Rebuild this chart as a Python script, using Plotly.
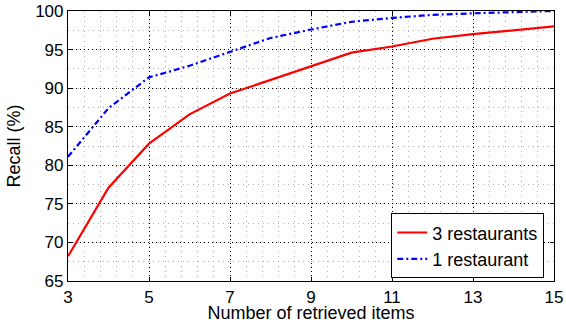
import plotly.graph_objects as go

x_items = [3, 4, 5, 6, 7, 8, 9, 10, 11, 12, 13, 14, 15]
recall_3 = [68.2, 77.1, 82.8, 86.6, 89.3, 91.1, 92.8, 94.6, 95.4, 96.4, 97.0, 97.5, 98.0]
recall_1 = [81.1, 87.4, 91.4, 92.9, 94.7, 96.5, 97.6, 98.6, 99.1, 99.5, 99.7, 99.85, 100.0]
x_ticks = [3, 5, 7, 9, 11, 13, 15]
y_ticks = [65, 70, 75, 80, 85, 90, 95, 100]

FONT = "Liberation Sans, Arial, sans-serif"

fig = go.Figure()
fig.add_trace(go.Scatter(x=x_items, y=recall_3, mode="lines", name="3 restaurants",
                         line=dict(color="#ff0000", width=2.2)))
fig.add_trace(go.Scatter(x=x_items, y=recall_1, mode="lines", name="1 restaurant",
                         line=dict(color="#0000ff", width=2.2, dash="6px,3px,2px,3px")))

axis_common = dict(
    showline=True, linecolor="black", linewidth=1.2, mirror="ticks",
    ticks="inside", ticklen=4, tickcolor="black",
    showgrid=True, gridcolor="black", gridwidth=1, griddash="1px,3px",
    zeroline=False, ticklabeloverflow="allow",
    tickfont=dict(family=FONT, size=17, color="black"),
)

fig.update_xaxes(
    range=[3, 15], tickmode="array", tickvals=x_ticks,
    ticktext=[str(v) for v in x_ticks], automargin=False,
    title=dict(text="Number of retrieved items", font=dict(family=FONT, size=18, color="black")),
    minor=dict(tick0=3, dtick=0.4, showgrid=True, gridcolor="#b0b0b0", griddash="1px,4px", gridwidth=1, ticks=""),
    **axis_common,
)
fig.update_yaxes(
    range=[65, 100], tickmode="array", tickvals=y_ticks,
    ticktext=[str(v) for v in y_ticks], automargin="left",
    title=dict(text="Recall (%)", font=dict(family=FONT, size=18, color="black"), standoff=9),
    minor=dict(tick0=65, dtick=2.5, showgrid=True, gridcolor="#b0b0b0", griddash="1px,4px", gridwidth=1, ticks=""),
    **axis_common,
)

fig.update_layout(
    width=566, height=323,
    margin=dict(l=68, r=12, t=11, b=42),
    plot_bgcolor="white", paper_bgcolor="white",
    font=dict(family=FONT, color="black"),
    legend=dict(x=0.98, y=0.01, xanchor="right", yanchor="bottom",
                bgcolor="white", bordercolor="black", borderwidth=1,
                font=dict(family=FONT, size=18, color="black"),
                tracegroupgap=0),
    showlegend=True,
)

fig.write_html("out.html", config={"displayModeBar": False},
               post_script="document.body.style.margin='0px';document.body.style.overflow='hidden';")
